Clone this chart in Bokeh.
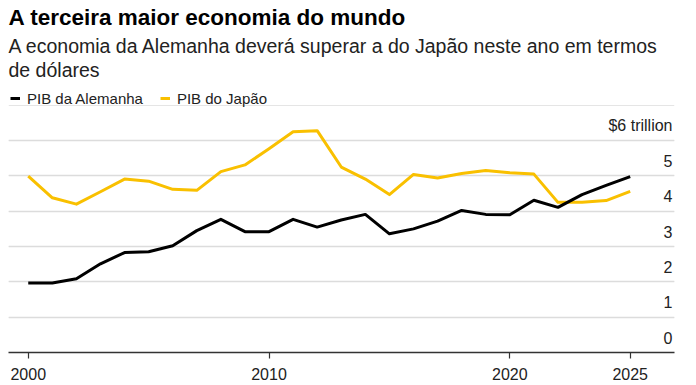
from bokeh.plotting import figure
from bokeh.models import Title, Legend, LegendItem, FixedTicker, Range1d, Grid, ColumnDataSource
from bokeh.core.properties import value
from bokeh.embed import file_html
from bokeh.resources import INLINE

# ---- data ----
years = list(range(2000, 2026))
germany = [1.97, 1.97, 2.09, 2.51, 2.83, 2.85, 3.02, 3.45, 3.77, 3.42, 3.42, 3.77, 3.55,
           3.75, 3.91, 3.36, 3.50, 3.72, 4.02, 3.91, 3.90, 4.31, 4.11, 4.47, 4.73, 4.98]
japan = [4.99, 4.38, 4.20, 4.55, 4.91, 4.85, 4.62, 4.59, 5.12, 5.31, 5.77, 6.25, 6.28,
         5.25, 4.91, 4.47, 5.04, 4.94, 5.07, 5.15, 5.09, 5.05, 4.25, 4.25, 4.30, 4.56]
x_ticks = [2000, 2010, 2020, 2025]
y_ticks = [0, 1, 2, 3, 4, 5, 6]
y_tick_labels = ["0", "1", "2", "3", "4", "5", "$6 trillion"]

title_text = "A terceira maior economia do mundo"
subtitle_1 = "A economia da Alemanha deverá superar a do Japão neste ano em termos"
subtitle_2 = "de dólares"
label_de = "PIB da Alemanha"
label_jp = "PIB do Japão"

FONT = "Liberation Sans"
BLACK = "#000000"
YELLOW = "#f9c000"

p = figure(width=688, height=382, output_backend="svg", toolbar_location=None,
           title=None, y_axis_location=None,
           x_range=Range1d(1999.18, 2026.84), y_range=Range1d(0, 7.7),
           min_border_left=8, min_border_right=14, min_border_top=0, min_border_bottom=0)
p.outline_line_color = None
p.background_fill_color = "white"
p.xgrid.visible = False

grid = Grid(dimension=1, ticker=FixedTicker(ticks=y_ticks[1:]),
            grid_line_color="#dcdcdc", grid_line_width=1.5)
p.add_layout(grid)

rj = p.line(years, japan, line_width=3, color=YELLOW, line_join="round")
rg = p.line(years, germany, line_width=3, color=BLACK, line_join="round")

ax = p.xaxis[0]
ax.ticker = FixedTicker(ticks=x_ticks)
ax.minor_tick_line_color = None
ax.major_tick_in = 0
ax.major_tick_out = 6
ax.major_tick_line_color = "#333333"
ax.major_tick_line_width = 1.2
ax.axis_line_color = "#333333"
ax.axis_line_width = 1.5
ax.major_label_text_font = FONT
ax.major_label_text_font_size = "16px"
ax.major_label_text_color = "#222222"
ax.major_label_standoff = 9

src = ColumnDataSource(dict(y=y_ticks, t=y_tick_labels))
p.text(x=p.x_range.end, y="y", text="t", source=src, text_align="right",
       text_baseline="alphabetic", x_offset=-2, y_offset=-15,
       text_font=value(FONT), text_font_size="16px", text_color="#222222")

legend = Legend(items=[LegendItem(label=label_de, renderers=[rg]),
                       LegendItem(label=label_jp, renderers=[rj])],
                orientation="horizontal", location="top_left",
                border_line_color=None, background_fill_alpha=0,
                label_text_font=FONT, label_text_font_size="15px", label_text_color="#222222",
                glyph_width=10, glyph_height=32, label_standoff=7, spacing=17,
                padding=2, margin=2)
p.add_layout(legend)

p.add_layout(Title(text=subtitle_2, text_font=FONT, text_font_size="19.5px",
                   text_font_style="normal", text_color="#222222", align="left",
                   offset=0, standoff=0), "above")
p.add_layout(Title(text=subtitle_1, text_font=FONT, text_font_size="19.5px",
                   text_font_style="normal", text_color="#222222", align="left",
                   offset=0, standoff=0), "above")
p.add_layout(Title(text=title_text, text_font=FONT, text_font_size="22.5px",
                   text_font_style="bold", text_color="#000000", align="left",
                   offset=0, standoff=5), "above")

open("out.html", "w").write(file_html(p, INLINE))
